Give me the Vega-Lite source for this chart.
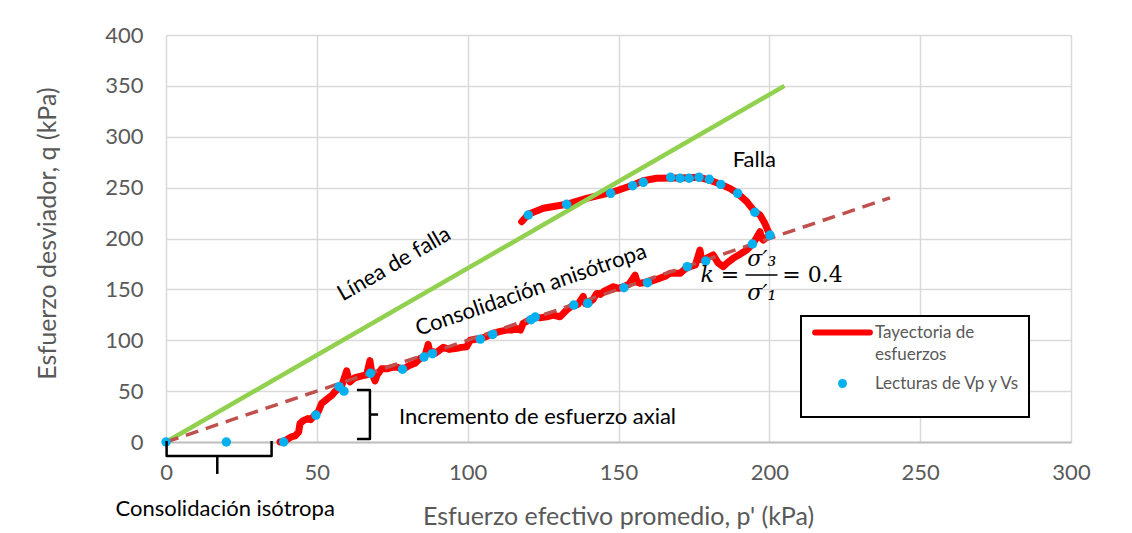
{
  "$schema": "https://vega.github.io/schema/vega-lite/v6.json",
  "width": 905,
  "height": 407,
  "autosize": {"type": "none"},
  "padding": {"left": 166, "top": 35, "right": 61, "bottom": 91},
  "background": "white",
  "config": {"view": {"stroke": null}, "font": "Lato"},
  "layer": [
    {
      "data": {"values": [
        {"s":"Tayectoria de esfuerzos","p":37.8,"q":0},{"s":"Tayectoria de esfuerzos","p":39,"q":0.5},{"s":"Tayectoria de esfuerzos","p":40.4,"q":3},{"s":"Tayectoria de esfuerzos","p":41.5,"q":5},{"s":"Tayectoria de esfuerzos","p":42.8,"q":6},{"s":"Tayectoria de esfuerzos","p":44,"q":10},{"s":"Tayectoria de esfuerzos","p":44.4,"q":18},{"s":"Tayectoria de esfuerzos","p":45.5,"q":21},{"s":"Tayectoria de esfuerzos","p":47,"q":23},{"s":"Tayectoria de esfuerzos","p":48,"q":22},{"s":"Tayectoria de esfuerzos","p":49.4,"q":27},{"s":"Tayectoria de esfuerzos","p":50.5,"q":30},{"s":"Tayectoria de esfuerzos","p":51.6,"q":38},{"s":"Tayectoria de esfuerzos","p":52.5,"q":40},{"s":"Tayectoria de esfuerzos","p":53.7,"q":43},{"s":"Tayectoria de esfuerzos","p":55,"q":46},{"s":"Tayectoria de esfuerzos","p":56,"q":49.5},{"s":"Tayectoria de esfuerzos","p":57.4,"q":53},{"s":"Tayectoria de esfuerzos","p":58.2,"q":55},{"s":"Tayectoria de esfuerzos","p":59.9,"q":70},{"s":"Tayectoria de esfuerzos","p":60.5,"q":62},{"s":"Tayectoria de esfuerzos","p":61,"q":59},{"s":"Tayectoria de esfuerzos","p":62.5,"q":63},{"s":"Tayectoria de esfuerzos","p":63.7,"q":64},{"s":"Tayectoria de esfuerzos","p":65,"q":65},{"s":"Tayectoria de esfuerzos","p":66.5,"q":66},{"s":"Tayectoria de esfuerzos","p":67.6,"q":80},{"s":"Tayectoria de esfuerzos","p":68.2,"q":68},{"s":"Tayectoria de esfuerzos","p":69.3,"q":60},{"s":"Tayectoria de esfuerzos","p":70,"q":66},{"s":"Tayectoria de esfuerzos","p":71.5,"q":72},{"s":"Tayectoria de esfuerzos","p":73.5,"q":72},{"s":"Tayectoria de esfuerzos","p":75.9,"q":74},{"s":"Tayectoria de esfuerzos","p":78.7,"q":71.7},{"s":"Tayectoria de esfuerzos","p":80.5,"q":75},{"s":"Tayectoria de esfuerzos","p":82.5,"q":77.3},{"s":"Tayectoria de esfuerzos","p":84.2,"q":82},{"s":"Tayectoria de esfuerzos","p":85.8,"q":84},{"s":"Tayectoria de esfuerzos","p":86.9,"q":96},{"s":"Tayectoria de esfuerzos","p":87.5,"q":88},{"s":"Tayectoria de esfuerzos","p":88.6,"q":88.7},{"s":"Tayectoria de esfuerzos","p":89.2,"q":87},{"s":"Tayectoria de esfuerzos","p":91.9,"q":93},{"s":"Tayectoria de esfuerzos","p":94,"q":91},{"s":"Tayectoria de esfuerzos","p":96.4,"q":92},{"s":"Tayectoria de esfuerzos","p":98,"q":93},{"s":"Tayectoria de esfuerzos","p":99.7,"q":93.7},{"s":"Tayectoria de esfuerzos","p":100.8,"q":100},{"s":"Tayectoria de esfuerzos","p":102.5,"q":101},{"s":"Tayectoria de esfuerzos","p":104.6,"q":102},{"s":"Tayectoria de esfuerzos","p":106.5,"q":104},{"s":"Tayectoria de esfuerzos","p":108.5,"q":106.8},{"s":"Tayectoria de esfuerzos","p":110.5,"q":108.5},{"s":"Tayectoria de esfuerzos","p":112.9,"q":110},{"s":"Tayectoria de esfuerzos","p":114.5,"q":110},{"s":"Tayectoria de esfuerzos","p":116.2,"q":111.7},{"s":"Tayectoria de esfuerzos","p":117.5,"q":110},{"s":"Tayectoria de esfuerzos","p":118.4,"q":116.7},{"s":"Tayectoria de esfuerzos","p":120.5,"q":120},{"s":"Tayectoria de esfuerzos","p":122.3,"q":123},{"s":"Tayectoria de esfuerzos","p":124,"q":122},{"s":"Tayectoria de esfuerzos","p":126.2,"q":123},{"s":"Tayectoria de esfuerzos","p":128.4,"q":124.8},{"s":"Tayectoria de esfuerzos","p":130.6,"q":123},{"s":"Tayectoria de esfuerzos","p":132.8,"q":129.7},{"s":"Tayectoria de esfuerzos","p":135,"q":134.6},{"s":"Tayectoria de esfuerzos","p":136.5,"q":135},{"s":"Tayectoria de esfuerzos","p":138.3,"q":143},{"s":"Tayectoria de esfuerzos","p":139,"q":136},{"s":"Tayectoria de esfuerzos","p":140,"q":136.3},{"s":"Tayectoria de esfuerzos","p":141.5,"q":140},{"s":"Tayectoria de esfuerzos","p":142.8,"q":146},{"s":"Tayectoria de esfuerzos","p":144,"q":145},{"s":"Tayectoria de esfuerzos","p":145,"q":147.7},{"s":"Tayectoria de esfuerzos","p":148.3,"q":152.6},{"s":"Tayectoria de esfuerzos","p":150,"q":151},{"s":"Tayectoria de esfuerzos","p":151.6,"q":152.6},{"s":"Tayectoria de esfuerzos","p":153.5,"q":155},{"s":"Tayectoria de esfuerzos","p":155.5,"q":164},{"s":"Tayectoria de esfuerzos","p":156.2,"q":157},{"s":"Tayectoria de esfuerzos","p":157.1,"q":156},{"s":"Tayectoria de esfuerzos","p":160.4,"q":157.5},{"s":"Tayectoria de esfuerzos","p":163.7,"q":161},{"s":"Tayectoria de esfuerzos","p":165.5,"q":163},{"s":"Tayectoria de esfuerzos","p":167.1,"q":165.8},{"s":"Tayectoria de esfuerzos","p":170.4,"q":165.8},{"s":"Tayectoria de esfuerzos","p":172,"q":170},{"s":"Tayectoria de esfuerzos","p":173.7,"q":172.3},{"s":"Tayectoria de esfuerzos","p":175.5,"q":174},{"s":"Tayectoria de esfuerzos","p":177,"q":188.7},{"s":"Tayectoria de esfuerzos","p":177.5,"q":180},{"s":"Tayectoria de esfuerzos","p":178.1,"q":178.9},{"s":"Tayectoria de esfuerzos","p":181.4,"q":183.8},{"s":"Tayectoria de esfuerzos","p":183,"q":176},{"s":"Tayectoria de esfuerzos","p":184.7,"q":172.3},{"s":"Tayectoria de esfuerzos","p":186,"q":176},{"s":"Tayectoria de esfuerzos","p":188,"q":180.5},{"s":"Tayectoria de esfuerzos","p":190,"q":184},{"s":"Tayectoria de esfuerzos","p":192.5,"q":188.7},{"s":"Tayectoria de esfuerzos","p":194.7,"q":195.3},{"s":"Tayectoria de esfuerzos","p":196.9,"q":206.7},{"s":"Tayectoria de esfuerzos","p":197.5,"q":200},{"s":"Tayectoria de esfuerzos","p":198,"q":198.5},{"s":"Tayectoria de esfuerzos","p":200.2,"q":203.4},{"s":"Tayectoria de esfuerzos","p":199.5,"q":208},{"s":"Tayectoria de esfuerzos","p":198.5,"q":214.9},{"s":"Tayectoria de esfuerzos","p":196.9,"q":223.1},{"s":"Tayectoria de esfuerzos","p":195.2,"q":226.3},{"s":"Tayectoria de esfuerzos","p":192.5,"q":236.2},{"s":"Tayectoria de esfuerzos","p":189.5,"q":244.4},{"s":"Tayectoria de esfuerzos","p":186.9,"q":249.3},{"s":"Tayectoria de esfuerzos","p":183.6,"q":253.6},{"s":"Tayectoria de esfuerzos","p":180.1,"q":257.5},{"s":"Tayectoria de esfuerzos","p":176.7,"q":260.1},{"s":"Tayectoria de esfuerzos","p":170.4,"q":259.5},{"s":"Tayectoria de esfuerzos","p":162.6,"q":259.2},{"s":"Tayectoria de esfuerzos","p":158.2,"q":256.8},{"s":"Tayectoria de esfuerzos","p":154.9,"q":252.6},{"s":"Tayectoria de esfuerzos","p":147.4,"q":245},{"s":"Tayectoria de esfuerzos","p":139.4,"q":239.5},{"s":"Tayectoria de esfuerzos","p":132.8,"q":233.6},{"s":"Tayectoria de esfuerzos","p":125.1,"q":229.7},{"s":"Tayectoria de esfuerzos","p":120.1,"q":223.8},{"s":"Tayectoria de esfuerzos","p":117.9,"q":216.5}
      ]},
      "mark": {"type": "line", "strokeWidth": 7, "strokeCap": "round", "strokeJoin": "round"},
      "encoding": {
        "x": {"field": "p", "type": "quantitative", "scale": {"domain": [0, 300], "nice": false},
          "axis": {"values": [0,50,100,150,200,250,300], "labelFlush": false, "title": "Esfuerzo efectivo promedio, p' (kPa)", "titleFont": "Lato", "titleFontSize": 25, "titleFontWeight": "normal", "titleColor": "#595959", "titleX": 452, "titleY": 74, "titleBaseline": "middle", "labelFont": "Lato", "labelFontSize": 22, "labelColor": "#595959", "labelPadding": 20, "ticks": false, "tickSize": 0, "domainColor": "#BFBFBF", "domainWidth": 2, "gridColor": "#D9D9D9", "gridWidth": 1.5}},
        "y": {"field": "q", "type": "quantitative", "scale": {"domain": [0, 400], "nice": false},
          "axis": {"values": [0,50,100,150,200,250,300,350,400], "labelFlush": false, "title": "Esfuerzo desviador, q (kPa)", "titleFont": "Lato", "titleFontSize": 25, "titleFontWeight": "normal", "titleColor": "#595959", "titleX": -119, "titleY": 198, "titleAngle": -90, "titleAlign": "center", "titleBaseline": "middle", "labelFont": "Lato", "labelFontSize": 22, "labelColor": "#595959", "labelPadding": 23, "ticks": false, "tickSize": 0, "domain": false, "gridColor": "#D9D9D9", "gridWidth": 1.5}},
        "color": {"field": "s", "type": "nominal",
          "scale": {"domain": ["Tayectoria de esfuerzos", "Lecturas de Vp y Vs"], "range": ["#FF0000", "#00B0F0"]},
          "legend": {"title": " ", "titleOrient": "bottom", "titleFontSize": 12, "titlePadding": 6, "orient": "none", "legendX": 635, "legendY": 281, "fillColor": "white", "strokeColor": "black", "padding": 8, "labelFont": "Lato", "labelFontSize": 17, "labelColor": "#595959", "labelOffset": 24, "symbolOffset": 25, "labelLimit": 300, "rowPadding": 11,
            "labelExpr": "datum.label == 'Tayectoria de esfuerzos' ? ['Tayectoria de', 'esfuerzos'] : datum.label",
            "encode": {
              "symbols": {"update": {
                "shape": {"signal": "datum.value == 'Tayectoria de esfuerzos' ? 'stroke' : 'circle'"},
                "size": {"signal": "datum.value == 'Tayectoria de esfuerzos' ? 3000 : 80"},
                "strokeWidth": {"signal": "datum.value == 'Tayectoria de esfuerzos' ? 6 : 0"},
                "stroke": {"signal": "datum.value == 'Tayectoria de esfuerzos' ? '#FF0000' : 'transparent'"},
                "fill": {"signal": "datum.value == 'Tayectoria de esfuerzos' ? 'transparent' : '#00B0F0'"},
                "strokeCap": {"value": "round"},
                "opacity": {"value": 1}, "fillOpacity": {"value": 1}, "strokeOpacity": {"value": 1}
              }},
              "labels": {"update": {"lineHeight": {"value": 22}}},
              "legend": {"update": {"strokeWidth": {"value": 2}}}
            }}},
        "order": {"value": null}
      }
    },
    {
      "data": {"values": [{"p": 0, "q": 0}, {"p": 205, "q": 350}]},
      "mark": {"type": "line", "color": "#92D050", "strokeWidth": 4.5},
      "encoding": {"x": {"field": "p", "type": "quantitative"}, "y": {"field": "q", "type": "quantitative"}}
    },
    {
      "data": {"values": [{"p": 0, "q": 0}, {"p": 240, "q": 240}]},
      "mark": {"type": "line", "color": "#C0504D", "strokeWidth": 3.5, "strokeDash": [13, 8]},
      "encoding": {"x": {"field": "p", "type": "quantitative"}, "y": {"field": "q", "type": "quantitative"}}
    },
    {
      "data": {"values": [
        {"s":"Lecturas de Vp y Vs","p":0,"q":0},{"s":"Lecturas de Vp y Vs","p":20,"q":0},{"s":"Lecturas de Vp y Vs","p":39,"q":0},{"s":"Lecturas de Vp y Vs","p":49.7,"q":26.5},{"s":"Lecturas de Vp y Vs","p":57.4,"q":54.4},{"s":"Lecturas de Vp y Vs","p":59,"q":50},{"s":"Lecturas de Vp y Vs","p":67.8,"q":67.5},{"s":"Lecturas de Vp y Vs","p":78.4,"q":71.6},{"s":"Lecturas de Vp y Vs","p":85.5,"q":83.5},{"s":"Lecturas de Vp y Vs","p":88.3,"q":86.8},{"s":"Lecturas de Vp y Vs","p":104.2,"q":101.1},{"s":"Lecturas de Vp y Vs","p":108.3,"q":105.7},{"s":"Lecturas de Vp y Vs","p":121,"q":120.2},{"s":"Lecturas de Vp y Vs","p":122.4,"q":122.8},{"s":"Lecturas de Vp y Vs","p":135.2,"q":134.6},{"s":"Lecturas de Vp y Vs","p":139.8,"q":136.3},{"s":"Lecturas de Vp y Vs","p":151.8,"q":151.6},{"s":"Lecturas de Vp y Vs","p":159.6,"q":156.6},{"s":"Lecturas de Vp y Vs","p":172.8,"q":172.3},{"s":"Lecturas de Vp y Vs","p":178.9,"q":177.9},{"s":"Lecturas de Vp y Vs","p":194.4,"q":194.6},{"s":"Lecturas de Vp y Vs","p":200.2,"q":203.4},{"s":"Lecturas de Vp y Vs","p":195.2,"q":225.8},{"s":"Lecturas de Vp y Vs","p":189.5,"q":244.4},{"s":"Lecturas de Vp y Vs","p":183.9,"q":253.2},{"s":"Lecturas de Vp y Vs","p":180.1,"q":258.2},{"s":"Lecturas de Vp y Vs","p":176.7,"q":260.1},{"s":"Lecturas de Vp y Vs","p":173.4,"q":259.2},{"s":"Lecturas de Vp y Vs","p":170.4,"q":259.2},{"s":"Lecturas de Vp y Vs","p":167.3,"q":260.1},{"s":"Lecturas de Vp y Vs","p":158.2,"q":255.2},{"s":"Lecturas de Vp y Vs","p":154.7,"q":251.9},{"s":"Lecturas de Vp y Vs","p":147.4,"q":244.4},{"s":"Lecturas de Vp y Vs","p":132.8,"q":233.6},{"s":"Lecturas de Vp y Vs","p":120.1,"q":223.1}
      ]},
      "mark": {"type": "point", "filled": true, "size": 90, "opacity": 1},
      "encoding": {
        "x": {"field": "p", "type": "quantitative"},
        "y": {"field": "q", "type": "quantitative"},
        "color": {"field": "s", "type": "nominal"}
      }
    },
    {
      "data": {"values": [
        {"g":"b1","p":0.2,"q":1},{"g":"b1","p":0.2,"q":-13.8},{"g":"b1","p":35,"q":-13.8},{"g":"b1","p":35,"q":1},
        {"g":"b2","p":17,"q":-13.8},{"g":"b2","p":17,"q":-31.4},
        {"g":"r1","p":63.3,"q":51.1},{"g":"r1","p":67.6,"q":51.1},{"g":"r1","p":67.6,"q":2.9},{"g":"r1","p":63.3,"q":2.9},
        {"g":"r2","p":67.6,"q":27},{"g":"r2","p":70.3,"q":27}
      ]},
      "mark": {"type": "line", "color": "black", "strokeWidth": 2.5, "strokeJoin": "round"},
      "encoding": {"x": {"field": "p", "type": "quantitative"}, "y": {"field": "q", "type": "quantitative"}, "detail": {"field": "g"}, "order": {"value": null}}
    },
    {
      "data": {"values": [
        {"t": "Falla", "p": 195, "q": 277},
        {"t": "Consolidación isótropa", "p": 19.6, "q": -65.4}
      ]},
      "mark": {"type": "text", "font": "Lato", "fontSize": 22, "color": "black", "align": "center", "baseline": "middle"},
      "encoding": {"x": {"field": "p", "type": "quantitative"}, "y": {"field": "q", "type": "quantitative"}, "text": {"field": "t"}}
    },
    {
      "data": {"values": [{"t": "Incremento de esfuerzo axial", "p": 77.2, "q": 25}]},
      "mark": {"type": "text", "font": "Lato", "fontSize": 22, "color": "black", "align": "left", "baseline": "middle"},
      "encoding": {"x": {"field": "p", "type": "quantitative"}, "y": {"field": "q", "type": "quantitative"}, "text": {"field": "t"}}
    },
    {
      "data": {"values": [{"t": "Línea de falla", "p": 75.6, "q": 175}]},
      "mark": {"type": "text", "font": "Lato", "fontSize": 22, "color": "black", "align": "center", "baseline": "middle", "angle": -30},
      "encoding": {"x": {"field": "p", "type": "quantitative"}, "y": {"field": "q", "type": "quantitative"}, "text": {"field": "t"}}
    },
    {
      "data": {"values": [{"t": "Consolidación anisótropa", "p": 121, "q": 149.4}]},
      "mark": {"type": "text", "font": "Lato", "fontSize": 22, "color": "black", "align": "center", "baseline": "middle", "angle": -19},
      "encoding": {"x": {"field": "p", "type": "quantitative"}, "y": {"field": "q", "type": "quantitative"}, "text": {"field": "t"}}
    },
    {
      "data": {"values": [
        {"t": "k =", "p": 183.6, "q": 164},
        {"t": "σ′₃", "p": 197.5, "q": 179.8},
        {"t": "σ′₁", "p": 197.5, "q": 146.4}
      ]},
      "mark": {"type": "text", "font": "DejaVu Serif", "fontSize": 22, "fontStyle": "italic", "color": "black", "align": "center", "baseline": "middle"},
      "encoding": {"x": {"field": "p", "type": "quantitative"}, "y": {"field": "q", "type": "quantitative"}, "text": {"field": "t"}}
    },
    {
      "data": {"values": [{"t": "= 0.4", "p": 214.3, "q": 164}]},
      "mark": {"type": "text", "font": "DejaVu Serif", "fontSize": 22, "color": "black", "align": "center", "baseline": "middle"},
      "encoding": {"x": {"field": "p", "type": "quantitative"}, "y": {"field": "q", "type": "quantitative"}, "text": {"field": "t"}}
    },
    {
      "data": {"values": [{"p": 192.1, "p2": 202.7, "q": 164.1}]},
      "mark": {"type": "rule", "color": "black", "strokeWidth": 1.5},
      "encoding": {"x": {"field": "p", "type": "quantitative"}, "x2": {"field": "p2"}, "y": {"field": "q", "type": "quantitative"}}
    }
  ]
}
